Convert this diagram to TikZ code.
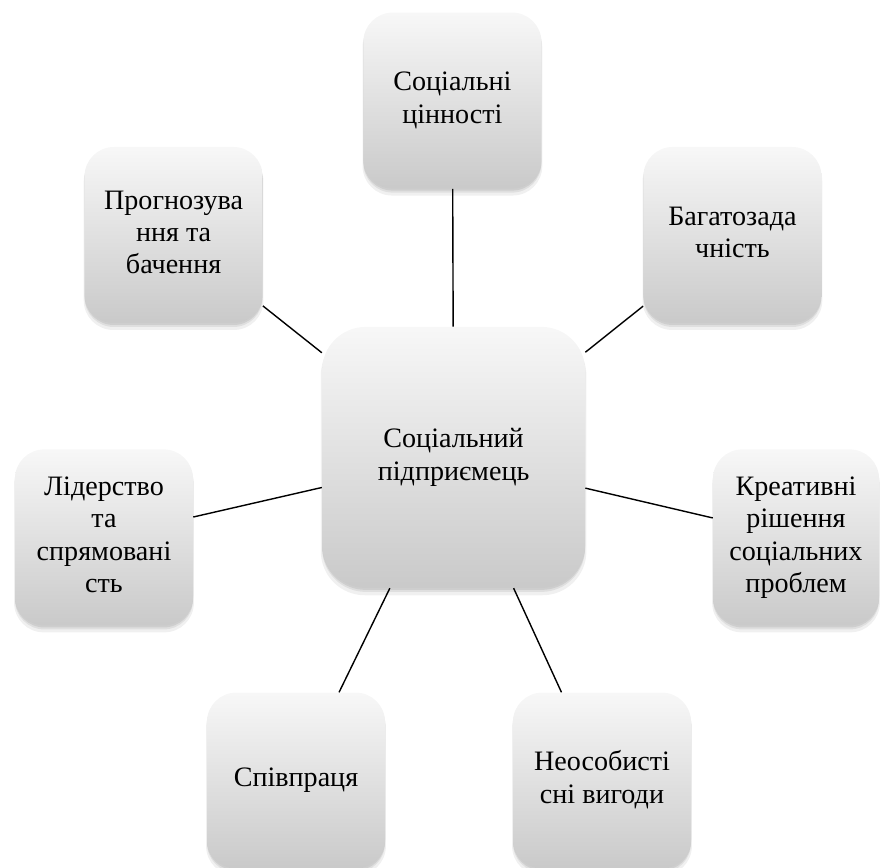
\documentclass[tikz,border=0pt]{standalone}
\usepackage{fontspec}
\setmainfont{Liberation Serif}
\newfontfamily\uafont{Liberation Serif}
\usetikzlibrary{shadows}
\newcommand\lines[1]{\begin{tabular}{@{}c@{}}#1\end{tabular}}
\begin{document}
\begin{tikzpicture}[
  box/.style={rectangle,rounded corners=0.73cm,minimum width=4.45cm,minimum height=4.4cm,inner sep=2pt,
    top color=white!97!black,bottom color=white!79!black,
    general shadow={fill=black,fill opacity=0.06,shadow yshift=-0.15cm,shadow scale=1.01},
    general shadow={fill=black,fill opacity=0.07,shadow yshift=-0.1cm},
    general shadow={fill=black,fill opacity=0.08,shadow yshift=-0.05cm}},
  hub/.style={box,rounded corners=1.09cm,minimum width=6.575cm,minimum height=6.525cm},
  txt/.style={inner sep=0pt,font=\uafont\fontsize{20}{23}\selectfont},
  link/.style={line width=1pt}]
\useasboundingbox (0,0) rectangle (22,21.675);
\node[hub](sp) at (11.34,10.24){};
\node[box](cin) at (11.31,19.16){};
\node[box](bag) at (18.31,15.8){};
\node[box,minimum width=4.15cm](kre) at (19.9,8.24){};
\node[box](neo) at (15.05,2.16){};
\node[box](spi) at (7.4,2.16){};
\node[box](lid) at (2.6,8.24){};
\node[box](pro) at (4.34,15.8){};
\draw[link](sp)--(cin);
\draw[link](sp)--(bag);
\draw[link](sp)--(kre);
\draw[link](sp)--(neo);
\draw[link](sp)--(spi);
\draw[link](sp)--(lid);
\draw[link](sp)--(pro);
\node[txt](sp-t) at (sp){\lines{Соціальний\\підприємець}};
\node[txt](cin-t) at (cin){\lines{Соціальні\\цінності}};
\node[txt](bag-t) at (bag){\lines{Багатозада\\чність}};
\node[txt](kre-t) at (kre){\lines{Креативні\\рішення\\соціальних\\проблем}};
\node[txt](neo-t) at (neo){\lines{Неособисті\\сні вигоди}};
\node[txt](spi-t) at (spi){Співпраця};
\node[txt](lid-t) at (lid){\lines{Лідерство\\та\\спрямовані\\сть}};
\node[txt](pro-t) at (pro){\lines{Прогнозува\\ння та\\бачення}};
\end{tikzpicture}
\end{document}
